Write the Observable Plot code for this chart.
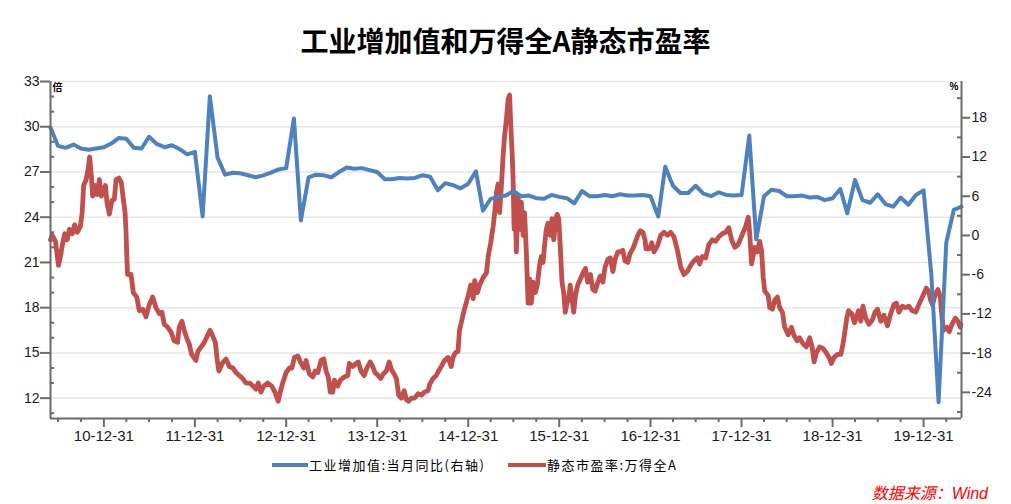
<!DOCTYPE html>
<html><head><meta charset="utf-8">
<script src="https://cdn.jsdelivr.net/npm/d3@7"></script>
<script src="https://cdn.jsdelivr.net/npm/@observablehq/plot@0.6"></script>
<style>
html,body{margin:0;padding:0;background:#fff;}
#wrap{position:relative;width:1011px;height:504px;overflow:hidden;background:#fff;}
#title{position:absolute;left:0;top:20px;width:1011px;height:40px;line-height:40px;text-align:center;font-family:"Noto Sans CJK SC",sans-serif;font-weight:bold;font-size:28px;color:#000;}
#chart{position:absolute;left:0;top:70px;}
.lg{position:absolute;top:456px;height:18px;line-height:18px;font-family:"Noto Sans CJK SC",sans-serif;font-size:13px;letter-spacing:1.5px;color:#000;white-space:nowrap;}
.sw{position:absolute;top:463px;height:4px;}
#src{position:absolute;right:23px;top:480px;font-family:"Liberation Sans","Noto Sans CJK SC",sans-serif;font-style:italic;font-size:16px;color:#ff0000;white-space:nowrap;}
</style></head>
<body><div id="wrap">
<div id="title"></div>
<div id="chart"></div>
<div class="sw" id="sw1" style="left:272px;width:36px;background:#4f81bd"></div>
<div class="lg" id="lg1" style="left:309px"></div>
<div class="sw" id="sw2" style="left:508px;width:38px;background:#c0504d"></div>
<div class="lg" id="lg2" style="left:547px"></div>
<div id="src"></div>
</div>
<script>
const titleText = "工业增加值和万得全A静态市盈率";
const seriesNames = ["工业增加值:当月同比(右轴)", "静态市盈率:万得全A"];
const sourceText = "数据来源：Wind";
const leftUnit = "倍", rightUnit = "%";

const xDomain = ["2010-05-31", "2020-05-31"];
const leftDomain = [10.65, 33];
const rightDomain = [-28, 23.55];
const leftTicks = [12, 15, 18, 21, 24, 27, 30, 33];
const leftMinor = [11, 13, 14, 16, 17, 19, 20, 22, 23, 25, 26, 28, 29, 31, 32];
const rightTicks = [-24, -18, -12, -6, 0, 6, 12, 18];
const rightMinor = [-27, -21, -15, -9, -3, 3, 9, 15, 21];
const xTickLabels = ["10-12-31","11-12-31","12-12-31","13-12-31","14-12-31","15-12-31","16-12-31","17-12-31","18-12-31","19-12-31"];
const quarterDays = ["03-31", "06-30", "09-30"];
const quarterYears = [2010,2011,2012,2013,2014,2015,2016,2017,2018,2019,2020];

// 工业增加值:当月同比 (%), monthly from 2010-05 to 2020-05
const blueStart = [2010, 5];
const blueValues = [
  16.5, 13.7, 13.4, 13.9, 13.3, 13.1, 13.3, 13.5,
  14.1, 14.9, 14.8, 13.4, 13.3, 15.1, 14.0, 13.5, 13.8, 13.2, 12.4, 12.8,
  2.9, 21.3, 11.9, 9.3, 9.6, 9.5, 9.2, 8.9, 9.2, 9.6, 10.1, 10.3,
  17.9, 2.3, 8.9, 9.3, 9.2, 8.9, 9.7, 10.4, 10.2, 10.3, 10.0, 9.7,
  8.6, 8.6, 8.8, 8.7, 8.8, 9.2, 9.0, 6.9, 8.0, 7.7, 7.2, 7.9,
  9.8, 3.8, 5.6, 5.9, 6.1, 6.8, 6.0, 6.1, 5.7, 5.6, 6.2, 5.9,
  5.7, 4.9, 6.8, 6.0, 6.0, 6.2, 6.0, 6.3, 6.1, 6.1, 6.2, 6.0,
  2.9, 10.5, 7.6, 6.5, 6.5, 7.6, 6.4, 6.0, 6.6, 6.2, 6.1, 6.2,
  15.3, -0.6, 6.0, 7.0, 6.8, 6.0, 6.0, 6.1, 5.8, 5.9, 5.4, 5.7,
  7.1, 3.4, 8.5, 5.4, 5.0, 6.3, 4.8, 4.4, 5.8, 4.7, 6.2, 6.9,
  -6.0, -25.5, -1.1, 3.9, 4.4
];

// 静态市盈率:万得全A (倍)
const redDates = [
"2010-05-31","2010-06-07","2010-06-20","2010-07-02","2010-07-10","2010-07-17","2010-07-27","2010-08-06","2010-08-15","2010-08-26","2010-09-05","2010-09-15","2010-09-28","2010-10-05","2010-10-11","2010-10-21","2010-10-29","2010-11-04","2010-11-11","2010-11-16","2010-11-27","2010-12-04","2010-12-13","2010-12-21",
"2011-01-06","2011-01-13","2011-01-22","2011-02-01","2011-02-11","2011-02-18","2011-03-01","2011-03-11","2011-03-19","2011-03-26","2011-03-30","2011-04-02","2011-04-05","2011-04-19","2011-04-28","2011-05-12","2011-05-22","2011-06-05","2011-06-18","2011-07-01","2011-07-15","2011-07-28","2011-08-10","2011-08-21","2011-08-30","2011-09-13","2011-09-26","2011-10-09","2011-10-23","2011-10-29","2011-11-09","2011-11-18","2011-11-28","2011-12-08","2011-12-18",
"2012-01-04","2012-01-12","2012-01-25","2012-02-07","2012-02-21","2012-03-01","2012-03-12","2012-03-22","2012-03-29","2012-04-05","2012-04-18","2012-05-04","2012-05-17","2012-05-31","2012-06-13","2012-06-26","2012-07-10","2012-07-23","2012-08-08","2012-09-01","2012-09-10","2012-09-21","2012-10-02","2012-10-18","2012-11-03","2012-11-16","2012-11-29","2012-12-07","2012-12-17","2012-12-31",
"2013-01-13","2013-01-23","2013-02-02","2013-02-16","2013-02-26","2013-03-12","2013-03-21","2013-04-03","2013-04-17","2013-04-26","2013-05-07","2013-05-20","2013-05-31","2013-06-09","2013-06-18","2013-06-26","2013-07-06","2013-07-12","2013-07-26","2013-08-05","2013-08-21","2013-09-04","2013-09-10","2013-09-24","2013-10-07","2013-10-16","2013-10-27","2013-11-09","2013-11-20","2013-12-03","2013-12-13","2013-12-22",
"2014-01-04","2014-01-14","2014-01-24","2014-02-06","2014-02-17","2014-02-26","2014-03-09","2014-03-18","2014-03-27","2014-04-07","2014-04-18","2014-04-27","2014-05-06","2014-05-17","2014-05-30","2014-06-13","2014-06-26","2014-07-09","2014-07-23","2014-07-29","2014-08-12","2014-08-25","2014-09-03","2014-09-14","2014-09-27","2014-10-11","2014-10-24","2014-10-31","2014-11-09","2014-11-20","2014-11-26","2014-12-03","2014-12-16","2014-12-31",
"2015-01-10","2015-01-20","2015-01-26","2015-02-06","2015-02-15","2015-03-01","2015-03-14","2015-03-21","2015-03-31","2015-04-10","2015-04-16","2015-04-23","2015-04-30","2015-05-06","2015-05-13","2015-05-20","2015-05-26","2015-06-02","2015-06-09","2015-06-15","2015-06-19","2015-06-25","2015-06-29","2015-07-03","2015-07-08","2015-07-12","2015-07-19","2015-07-25","2015-08-01","2015-08-08","2015-08-14","2015-08-21","2015-08-28","2015-09-03","2015-09-10","2015-09-17","2015-09-26","2015-10-04","2015-10-13","2015-10-20","2015-10-27","2015-11-02","2015-11-09","2015-11-16","2015-11-25","2015-12-02","2015-12-09","2015-12-17","2015-12-23","2015-12-29",
"2016-01-04","2016-01-11","2016-01-18","2016-01-24","2016-01-31","2016-02-07","2016-02-13","2016-02-20","2016-02-27","2016-03-05","2016-03-14","2016-03-25","2016-04-04","2016-04-14","2016-04-23","2016-05-04","2016-05-14","2016-05-23","2016-06-03","2016-06-13","2016-06-23","2016-07-02","2016-07-13","2016-07-23","2016-08-02","2016-08-11","2016-08-22","2016-09-01","2016-09-11","2016-09-20","2016-10-01","2016-10-10","2016-10-21","2016-10-30","2016-11-10","2016-11-20","2016-11-30","2016-12-09","2016-12-13","2016-12-26",
"2017-01-05","2017-01-14","2017-01-28","2017-02-10","2017-02-23","2017-03-09","2017-03-22","2017-04-04","2017-04-18","2017-05-01","2017-05-14","2017-05-28","2017-06-10","2017-06-23","2017-07-07","2017-07-16","2017-07-27","2017-08-09","2017-08-22","2017-09-05","2017-09-18","2017-10-01","2017-10-15","2017-10-28","2017-11-10","2017-11-21","2017-12-04","2017-12-18",
"2018-01-04","2018-01-17","2018-01-27","2018-02-02","2018-02-06","2018-02-09","2018-02-22","2018-03-04","2018-03-14","2018-03-21","2018-03-28","2018-04-03","2018-04-17","2018-04-23","2018-05-04","2018-05-13","2018-05-24","2018-06-02","2018-06-13","2018-06-22","2018-07-06","2018-07-19","2018-07-28","2018-08-11","2018-08-21","2018-09-04","2018-09-17","2018-09-30","2018-10-10","2018-10-18","2018-10-27","2018-11-09","2018-11-23","2018-12-06","2018-12-17","2018-12-26",
"2019-01-06","2019-01-20","2019-02-02","2019-02-11","2019-02-19","2019-02-26","2019-03-05","2019-03-18","2019-03-29","2019-04-14","2019-04-23","2019-05-02","2019-05-13","2019-05-26","2019-06-09","2019-06-19","2019-06-29","2019-07-12","2019-07-25","2019-08-08","2019-08-21","2019-09-03","2019-09-13","2019-09-23","2019-10-07","2019-10-20","2019-11-02","2019-11-16","2019-11-29","2019-12-12","2019-12-23","2019-12-31",
"2020-01-11","2020-01-20","2020-01-28","2020-02-05","2020-02-16","2020-02-27","2020-03-07","2020-03-14","2020-03-20","2020-04-03","2020-04-12","2020-04-23","2020-05-06","2020-05-17","2020-05-26","2020-05-29"
];
const redValues = [
22.5,22.8,22.4,20.8,21.4,22.1,22.9,22.5,23.2,22.9,23.5,23.0,23.4,24.3,26.1,26.5,27.2,28.0,26.7,25.4,26.1,25.5,26.5,25.4,
26.1,24.9,24.2,25.1,25.2,26.5,26.6,26.3,25.2,24.3,23.0,21.4,20.2,20.2,19.0,18.7,17.8,17.9,17.4,18.2,18.7,18.0,17.6,17.7,16.9,16.7,16.4,15.8,15.7,16.7,17.1,16.5,16.0,15.6,14.9,
14.5,15.1,15.4,15.7,16.2,16.5,16.1,15.7,14.6,13.8,14.3,14.6,14.1,14.0,13.7,13.5,13.3,13.0,13.0,12.6,13.0,12.4,12.8,13.0,12.8,12.4,11.8,12.4,13.0,13.7,
14.0,14.0,14.7,14.8,14.4,14.0,14.5,13.6,13.4,13.8,13.7,14.5,14.6,13.8,13.4,12.4,12.4,13.2,12.8,13.2,13.4,13.5,14.3,14.1,14.3,14.4,13.8,13.5,14.0,14.4,14.1,13.7,
13.5,13.3,13.6,13.8,14.4,13.9,13.6,13.3,12.2,12.0,12.5,11.9,11.8,12.0,12.0,12.3,12.2,12.4,12.5,12.9,13.3,13.5,13.8,14.1,14.5,14.7,14.1,14.7,15.0,15.1,16.5,17.0,17.9,18.8,
19.5,18.6,19.8,19.0,19.5,20.0,20.3,21.4,22.3,23.4,24.3,25.6,26.2,24.3,26.1,28.1,29.4,30.5,31.8,32.1,30.3,28.3,26.5,23.2,24.3,21.7,25.4,23.2,25.0,22.8,24.3,21.7,18.3,19.9,18.3,19.7,19.0,19.5,20.8,21.4,21.0,22.1,23.2,23.6,22.8,23.9,22.5,23.9,24.2,23.9,
22.1,19.7,19.0,17.7,18.3,18.6,19.5,18.6,17.7,18.8,19.5,19.9,20.3,20.6,19.7,20.2,19.2,19.1,19.7,20.1,19.7,20.7,21.2,21.3,20.4,21.2,21.7,21.7,21.8,21.1,21.0,21.6,21.9,22.3,22.8,23.1,23.0,22.5,21.9,21.9,
22.3,21.7,22.1,22.8,23.0,22.8,23.0,22.7,21.8,20.7,20.2,20.4,20.8,21.1,21.3,20.9,21.4,21.3,22.2,22.5,22.4,22.7,22.9,23.0,23.3,22.5,22.0,22.2,
22.9,23.4,24.0,22.9,21.8,20.9,22.0,21.7,22.4,21.8,20.0,19.1,18.8,18.0,17.9,18.5,18.7,18.0,17.7,16.7,16.2,16.7,16.2,15.8,16.0,15.6,15.4,16.0,15.4,14.4,15.0,15.4,15.3,15.0,14.7,14.3,
14.7,14.9,14.9,15.6,16.5,17.3,17.8,17.6,17.0,17.8,17.1,18.1,17.3,16.9,17.2,17.7,17.9,17.1,17.5,16.8,17.6,18.2,18.3,17.7,18.1,18.0,18.1,17.8,17.7,18.2,18.6,18.9,
19.3,19.1,18.5,18.2,18.9,19.2,18.7,17.3,16.5,16.7,16.4,16.9,17.3,17.1,16.7,16.9
];

document.getElementById("title").textContent = titleText;
document.getElementById("lg1").textContent = seriesNames[0];
document.getElementById("lg2").textContent = seriesNames[1];
document.getElementById("src").textContent = sourceText;

const x0 = new Date(xDomain[0]), x1 = new Date(xDomain[1]);
const R2L = d3.scaleLinear().domain(rightDomain).range(leftDomain);
const blue = blueValues.map((v, i) => ({date: new Date(Date.UTC(blueStart[0], blueStart[1] - 1 + i + 1, 0)), v}));
const red = redDates.map((d, i) => ({date: new Date(d), v: redValues[i]}));
const xMajor = xTickLabels.map(s => new Date("20" + s));
const xMinor = quarterYears.flatMap(y => quarterDays.map(q => new Date(y + "-" + q))).filter(d => d >= x0 && d <= x1);

const axisColor = "#6b6b6b";
const chart = Plot.plot({
  width: 1011, height: 378,
  marginLeft: 50, marginRight: 50, marginTop: 11, marginBottom: 30,
  x: {type: "utc", domain: [x0, x1], label: null},
  y: {domain: leftDomain, label: null},
  style: {fontFamily: "'Liberation Sans', Arial, sans-serif", fontSize: "14px", color: "#1a1a1a", background: "#fff", overflow: "visible"},
  marks: [
    Plot.ruleY(leftTicks, {stroke: "#e6e6e6", strokeWidth: 1.5}),
    Plot.line(red, {x: "date", y: "v", stroke: "#c0504d", strokeWidth: 4.8, strokeLinejoin: "round"}),
    Plot.line(blue, {x: "date", y: d => R2L(d.v), stroke: "#4f81bd", strokeWidth: 4, strokeLinejoin: "round"}),
    Plot.ruleX([x0], {stroke: axisColor, strokeWidth: 2}),
    Plot.ruleX([x1], {stroke: axisColor, strokeWidth: 2}),
    Plot.ruleY([leftDomain[0]], {stroke: axisColor, strokeWidth: 2}),
    Plot.axisY(leftTicks, {anchor: "left", tickSize: 10, tickPadding: 1, stroke: axisColor, strokeWidth: 2, label: null, fontSize: 14, fill: "#1a1a1a"}),
    Plot.ruleY(leftMinor, {y: d => d, x1: x0, x2: x0, insetRight: -4, stroke: axisColor, strokeWidth: 2}),
    Plot.axisY(rightTicks.map(t => R2L(t)), {anchor: "right", tickSize: 8, tickPadding: 2, stroke: axisColor, strokeWidth: 2, label: null, fontSize: 14, fill: "#1a1a1a",
      tickFormat: d => String(Math.round(R2L.invert(d)))}),
    Plot.ruleY(rightMinor.map(t => R2L(t)), {y: d => d, x1: x1, x2: x1, insetLeft: -4, stroke: axisColor, strokeWidth: 2}),
    Plot.axisX(xMajor, {anchor: "bottom", tickSize: 9, tickPadding: 3, stroke: axisColor, strokeWidth: 2, label: null, fontSize: 15, fill: "#1a1a1a",
      tickFormat: d => d3.utcFormat("%y-%m-%d")(d)}),
    Plot.axisX(xMinor, {anchor: "bottom", tickSize: 4, stroke: axisColor, strokeWidth: 2, label: null, tickFormat: () => ""}),
    Plot.text([leftUnit], {frameAnchor: "top-left", dx: 2, dy: 2, textAnchor: "start", fontSize: 10, fontWeight: "bold", fill: "#000", fontFamily: "'Noto Sans CJK SC'"}),
    Plot.text([rightUnit], {frameAnchor: "top-right", dx: -3, dy: 1, textAnchor: "end", fontSize: 10, fontWeight: "bold", fill: "#000"})
  ]
});
document.getElementById("chart").appendChild(chart);
</script>
</body></html>
